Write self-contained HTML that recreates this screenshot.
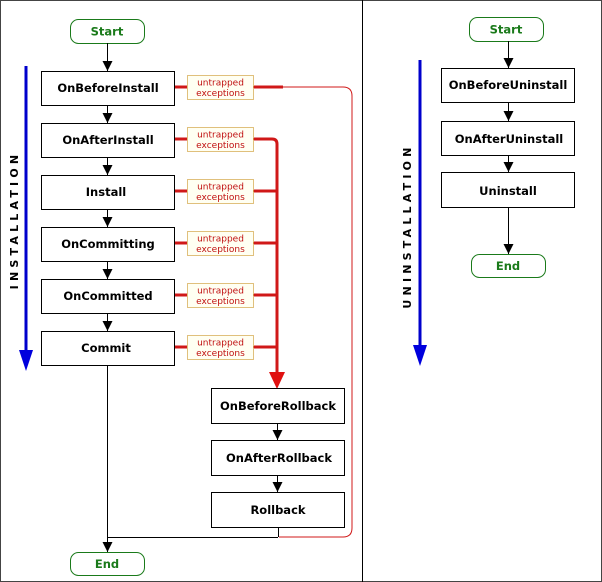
<!DOCTYPE html>
<html><head><meta charset="utf-8"><style>
html,body{margin:0;padding:0;background:#fff}
svg{display:block}
text{font-family:"DejaVu Sans","Liberation Sans",sans-serif}
.b{font-size:11.5px;font-weight:bold;fill:#000}
.g{font-size:11.5px;font-weight:bold;fill:#1a7a1a}
.r{font-size:9px;fill:#c01010}
</style></head><body>
<svg width="602" height="582" viewBox="0 0 602 582" xmlns="http://www.w3.org/2000/svg">
<defs>
<marker id="ak" markerWidth="10" markerHeight="10" refX="10" refY="5" orient="auto" markerUnits="userSpaceOnUse" viewBox="0 0 10 10"><path d="M0,0 L10,5 L0,10 z" fill="#000"/></marker>
</defs>
<rect x="0.5" y="0.5" width="601" height="581" fill="#fff" stroke="#444" stroke-width="1"/>
<line x1="362.5" y1="0" x2="362.5" y2="582" stroke="#000" stroke-width="1"/>

<!-- LEFT -->
<rect x="70.5" y="19.5" width="74" height="24" rx="8" fill="#fff" stroke="#1a7a1a"/>
<text class="g" x="107" y="35.5" text-anchor="middle">Start</text>

<line x1="26" y1="66" x2="26" y2="352" stroke="#0000cc" stroke-width="3"/>
<path d="M19,350 L33,350 L26,371 z" fill="#0000dd"/>
<text x="15" y="220" font-size="11" font-weight="bold" fill="#000" text-anchor="middle" letter-spacing="4.2" transform="rotate(-90 15 220)" dominant-baseline="middle">INSTALLATION</text>

<g stroke="#000" stroke-width="1" fill="none">
<line x1="107.5" y1="43" x2="107.5" y2="71" marker-end="url(#ak)"/>
<line x1="107.5" y1="105" x2="107.5" y2="123" marker-end="url(#ak)"/>
<line x1="107.5" y1="157" x2="107.5" y2="175" marker-end="url(#ak)"/>
<line x1="107.5" y1="209" x2="107.5" y2="227" marker-end="url(#ak)"/>
<line x1="107.5" y1="261" x2="107.5" y2="279" marker-end="url(#ak)"/>
<line x1="107.5" y1="313" x2="107.5" y2="331" marker-end="url(#ak)"/>
<line x1="107.5" y1="365" x2="107.5" y2="552" marker-end="url(#ak)"/>
<line x1="107" y1="537.5" x2="278" y2="537.5"/>
<line x1="278.5" y1="527" x2="278.5" y2="537"/>
<line x1="277.5" y1="424" x2="277.5" y2="440" marker-end="url(#ak)"/>
<line x1="277.5" y1="475" x2="277.5" y2="492" marker-end="url(#ak)"/>
</g>

<g stroke="#d01818" fill="none">
<path d="M282,87 L343,87 Q352,87 352,96 L352,528 Q352,537 343,537 L279,537" stroke-width="1"/>
<line x1="253" y1="87" x2="283" y2="87" stroke-width="3"/>
<path d="M253,139 L272,139 Q277,139 277,144 L277,375" stroke-width="3"/>
<line x1="253" y1="191" x2="277" y2="191" stroke-width="3"/>
<line x1="253" y1="243" x2="277" y2="243" stroke-width="3"/>
<line x1="253" y1="295" x2="277" y2="295" stroke-width="3"/>
<line x1="253" y1="347" x2="277" y2="347" stroke-width="3"/>
<line x1="174" y1="87" x2="187" y2="87" stroke-width="3"/>
<line x1="174" y1="139" x2="187" y2="139" stroke-width="3"/>
<line x1="174" y1="191" x2="187" y2="191" stroke-width="3"/>
<line x1="174" y1="243" x2="187" y2="243" stroke-width="3"/>
<line x1="174" y1="295" x2="187" y2="295" stroke-width="3"/>
<line x1="174" y1="347" x2="187" y2="347" stroke-width="3"/>
</g>
<path d="M269,372 L285,372 L277,389 z" fill="#e01010"/>

<g>
<rect x="187.5" y="75.5" width="66" height="24" fill="#fffff2" stroke="#c08000" stroke-dasharray="1,1"/>
<text class="r" x="220.5" y="85.5" text-anchor="middle">untrapped</text><text class="r" x="220.5" y="96" text-anchor="middle">exceptions</text>
<rect x="187.5" y="127.5" width="66" height="24" fill="#fffff2" stroke="#c08000" stroke-dasharray="1,1"/>
<text class="r" x="220.5" y="137.5" text-anchor="middle">untrapped</text><text class="r" x="220.5" y="148" text-anchor="middle">exceptions</text>
<rect x="187.5" y="179.5" width="66" height="24" fill="#fffff2" stroke="#c08000" stroke-dasharray="1,1"/>
<text class="r" x="220.5" y="189.5" text-anchor="middle">untrapped</text><text class="r" x="220.5" y="200" text-anchor="middle">exceptions</text>
<rect x="187.5" y="231.5" width="66" height="24" fill="#fffff2" stroke="#c08000" stroke-dasharray="1,1"/>
<text class="r" x="220.5" y="241.5" text-anchor="middle">untrapped</text><text class="r" x="220.5" y="252" text-anchor="middle">exceptions</text>
<rect x="187.5" y="283.5" width="66" height="24" fill="#fffff2" stroke="#c08000" stroke-dasharray="1,1"/>
<text class="r" x="220.5" y="293.5" text-anchor="middle">untrapped</text><text class="r" x="220.5" y="304" text-anchor="middle">exceptions</text>
<rect x="187.5" y="335.5" width="66" height="24" fill="#fffff2" stroke="#c08000" stroke-dasharray="1,1"/>
<text class="r" x="220.5" y="345.5" text-anchor="middle">untrapped</text><text class="r" x="220.5" y="356" text-anchor="middle">exceptions</text>
</g>

<g fill="#fff" stroke="#000">
<rect x="41.5" y="71.5" width="133" height="34"/>
<rect x="41.5" y="123.5" width="133" height="34"/>
<rect x="41.5" y="175.5" width="133" height="34"/>
<rect x="41.5" y="227.5" width="133" height="34"/>
<rect x="41.5" y="279.5" width="133" height="34"/>
<rect x="41.5" y="331.5" width="133" height="34"/>
<rect x="211.5" y="388.5" width="133" height="35"/>
<rect x="211.5" y="440.5" width="133" height="35"/>
<rect x="211.5" y="492.5" width="133" height="35"/>
</g>
<text class="b" x="108" y="92" text-anchor="middle">OnBeforeInstall</text>
<text class="b" x="108" y="144" text-anchor="middle">OnAfterInstall</text>
<text class="b" x="106" y="196" text-anchor="middle">Install</text>
<text class="b" x="108" y="248" text-anchor="middle">OnCommitting</text>
<text class="b" x="108" y="300" text-anchor="middle">OnCommitted</text>
<text class="b" x="106" y="352" text-anchor="middle">Commit</text>
<text class="b" x="278" y="410" text-anchor="middle">OnBeforeRollback</text>
<text class="b" x="279" y="462" text-anchor="middle">OnAfterRollback</text>
<text class="b" x="278" y="514" text-anchor="middle">Rollback</text>

<rect x="70.5" y="552.5" width="74" height="23" rx="8" fill="#fff" stroke="#1a7a1a"/>
<text class="g" x="107" y="568" text-anchor="middle">End</text>

<!-- RIGHT -->
<rect x="469.5" y="17.5" width="74" height="24" rx="8" fill="#fff" stroke="#1a7a1a"/>
<text class="g" x="506" y="33.5" text-anchor="middle">Start</text>
<line x1="420" y1="60" x2="420" y2="348" stroke="#0000cc" stroke-width="3"/>
<path d="M413,345 L427,345 L420,366 z" fill="#0000dd"/>
<text x="408" y="226" font-size="11" font-weight="bold" fill="#000" text-anchor="middle" letter-spacing="4.2" transform="rotate(-90 408 226)" dominant-baseline="middle">UNINSTALLATION</text>
<g stroke="#000" stroke-width="1" fill="none">
<line x1="508.5" y1="41" x2="508.5" y2="68" marker-end="url(#ak)"/>
<line x1="508.5" y1="102" x2="508.5" y2="121" marker-end="url(#ak)"/>
<line x1="508.5" y1="155" x2="508.5" y2="172" marker-end="url(#ak)"/>
<line x1="508.5" y1="207" x2="508.5" y2="254" marker-end="url(#ak)"/>
</g>
<g fill="#fff" stroke="#000">
<rect x="441.5" y="68.5" width="133" height="34"/>
<rect x="441.5" y="121.5" width="133" height="34"/>
<rect x="441.5" y="172.5" width="133" height="35"/>
</g>
<text class="b" x="508" y="89" text-anchor="middle">OnBeforeUninstall</text>
<text class="b" x="509" y="143" text-anchor="middle">OnAfterUninstall</text>
<text class="b" x="508" y="195" text-anchor="middle">Uninstall</text>
<rect x="471.5" y="254.5" width="74" height="23" rx="8" fill="#fff" stroke="#1a7a1a"/>
<text class="g" x="508" y="270" text-anchor="middle">End</text>
</svg>
</body></html>
